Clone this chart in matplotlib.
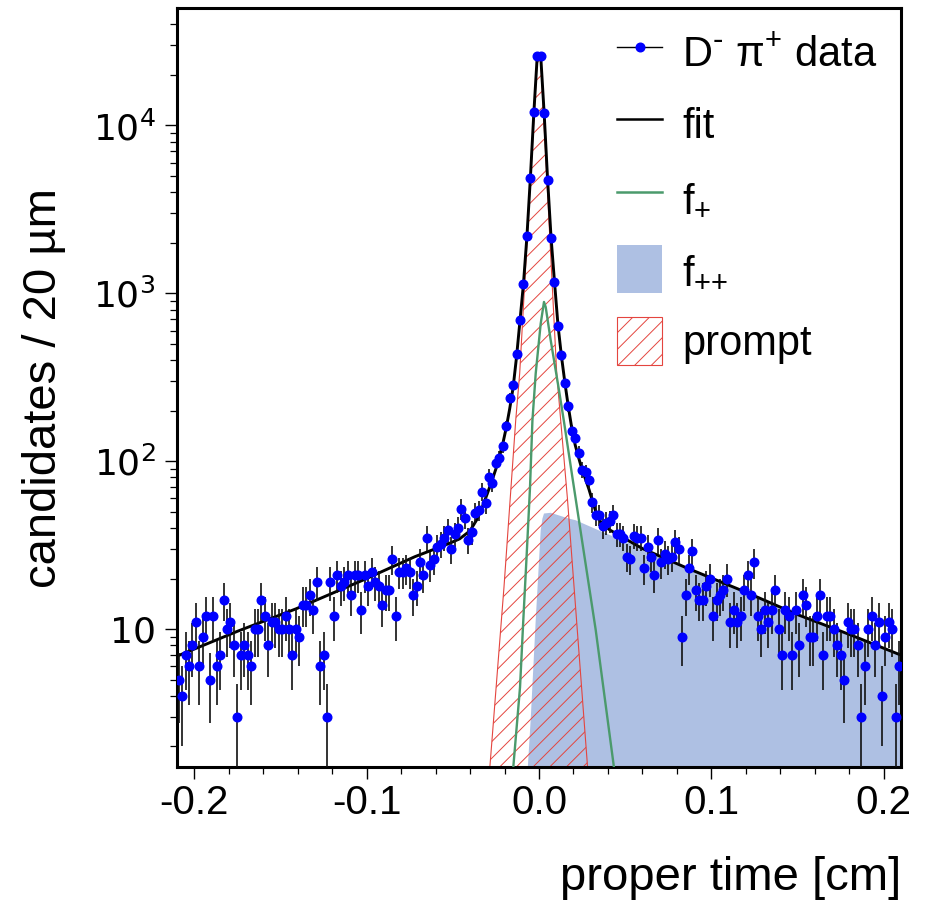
import numpy as np
import matplotlib
matplotlib.use("Agg")
import matplotlib.pyplot as plt
from matplotlib.lines import Line2D
from matplotlib.patches import Patch
from matplotlib.ticker import MultipleLocator, LogLocator, NullFormatter

plt.rcParams['font.family'] = ['Liberation Sans', 'DejaVu Sans']
plt.rcParams['mathtext.default'] = 'regular'
plt.rcParams['hatch.linewidth'] = 0.7
plt.rcParams['axes.unicode_minus'] = False

# proper-time histogram: 20 um bins between -0.21 and 0.21 cm
BIN_WIDTH = 0.002
X_RANGE = (-0.21, 0.21)
Y_RANGE = (1.51, 4.97e4)

counts = [
    5, 4, 7, 6, 8, 11, 6, 9, 12, 5, 12, 6, 7, 15, 10, 11, 8, 3, 7, 8,
    7, 6, 10, 10, 15, 12, 8, 11, 11, 10, 10, 12, 10, 7, 10, 9,
    14, 14, 16, 13, 19, 6, 7, 3, 19, 12, 21, 18, 19, 21, 16, 21, 21, 13,
    21, 18, 22, 19, 18, 14, 17, 17, 26, 12, 22, 22, 23, 22, 16, 18, 25, 21,
    35, 24, 26, 31, 32, 35, 39, 30, 37, 40, 52, 46, 34, 38, 49, 51, 66, 56,
    81, 74, 98, 105, 123, 162, 238, 283,
    433, 697, 1140, 2180, 4850, 12100, 26000,
    26000, 11800, 4760, 2130, 1170, 637, 428, 292, 212, 151, 138, 112,
    89, 86, 77, 57, 48, 48, 41, 43, 44, 48, 37, 37, 35, 27, 26, 36, 35, 35,
    23, 31, 27, 21, 34, 25, 28, 26, 27, 33, 30,
    9, 16, 23, 29, 17, 15, 15, 18, 20, 12, 15, 16, 17, 20, 11, 13, 11, 12,
    17, 21, 16, 25, 12, 10, 13, 11, 13, 17, 10, 7, 13, 12, 7, 13, 8,
    16, 14, 9, 9, 12, 16, 7, 12, 12, 10, 8, 7, 5, 11, 10, 10, 8, 3, 6, 10,
    12, 8, 11, 4, 9, 11, 10, 3, 6,
]

# total fit
fit_x = [-0.210, -0.175, -0.141, -0.102, -0.072, -0.052, -0.046, -0.040,
         -0.036, -0.033, -0.030, -0.027, -0.025, -0.023, -0.021, -0.019,
         -0.017, -0.015, -0.013, -0.011, -0.009, -0.007, -0.005, -0.003,
         -0.001, 0.001, 0.003, 0.005, 0.007, 0.009, 0.011, 0.013, 0.015,
         0.017, 0.019, 0.021, 0.023, 0.025, 0.027, 0.029, 0.031, 0.033,
         0.036, 0.041, 0.050, 0.060, 0.085, 0.120, 0.150, 0.180, 0.210]
fit_y = [6.9, 9.7, 13.2, 19.6, 27.0, 32.4, 34.5, 38.5,
         45, 53, 64, 78, 90, 106, 127, 158,
         205, 275, 420, 690, 1140, 2180, 4850, 11800,
         26000, 26000, 11800, 4760, 2150, 1170, 650, 425, 295,
         212, 158, 125, 105, 89, 78, 68, 58, 50,
         43, 39, 34.5, 30.2, 23.3, 16.6, 12.2, 9.3, 7.0]

# f+ component
fplus_x = [-0.0155, -0.0148, -0.0110, -0.0091, -0.0071, -0.0052, -0.0038,
           -0.0019, 0.0010, 0.0029, 0.0039, 0.0068, 0.0116, 0.0145, 0.0194,
           0.0242, 0.0329, 0.0435, 0.0460]
fplus_y = [1.2, 1.55, 4.5, 11.3, 28.2, 70, 175,
           333, 660, 888, 828, 525, 265, 172, 80,
           38, 9.9, 1.5, 1.0]

# f++ component
fpp_x = [-0.0068, -0.0064, -0.0048, -0.0019, 0.0010, 0.0020, 0.0029, 0.0068,
         0.0174, 0.0213, 0.0368, 0.0600, 0.0850, 0.1200, 0.1500, 0.1800, 0.2100]
fpp_y = [1.2, 1.55, 2.9, 11.3, 38.8, 45.5, 48.8, 49.3,
         45.5, 44.5, 37.9, 30.2, 23.3, 16.6, 12.2, 9.3, 7.0]

# prompt component
prompt_x = [-0.0295, -0.0284, -0.0203, -0.0135, -0.0112, -0.001, 0.001,
            0.0103, 0.0126, 0.0165, 0.0205, 0.0282, 0.0292]
prompt_y = [1.2, 1.55, 17.8, 175, 333, 25000, 25000,
            333, 175, 60, 17, 1.5, 1.2]

x_major_ticks = [-0.2, -0.1, 0.0, 0.1, 0.2]
x_tick_labels = ['-0.2', '-0.1', '0.0', '0.1', '0.2']
y_major_ticks = [10, 100, 1000, 10000]
y_tick_labels = ['10', '$10^{2}$', '$10^{3}$', '$10^{4}$']

C_DATA = '#0000ff'
C_FPLUS = '#4b9a6c'
C_FPP = '#aec0e3'
C_PROMPT = '#e4453f'

fig = plt.figure(figsize=(9.3, 9.02), dpi=100)
ax = fig.add_axes([0.1903, 0.1497, 0.7785, 0.8409])
ax.set_yscale('log')

floor = 0.5
ax.fill_between(fpp_x, fpp_y, floor, facecolor=C_FPP, edgecolor='none',
                linewidth=0, zorder=1)
ax.fill_between(prompt_x, prompt_y, floor, facecolor='none',
                edgecolor=C_PROMPT, hatch='//', linewidth=0.8, zorder=2)
ax.plot(fplus_x, fplus_y, color=C_FPLUS, lw=1.7, zorder=3)
ax.plot(fit_x, fit_y, color='black', lw=2.1, zorder=4)

n = np.asarray(counts, dtype=float)
centers = X_RANGE[0] + BIN_WIDTH * (np.arange(n.size) + 0.5)
ax.errorbar(centers, n, yerr=np.sqrt(n), fmt='none', ecolor='#111111',
            elinewidth=1.2, capsize=0, zorder=5)
ax.plot(centers, n, 'o', color=C_DATA, mec=C_DATA, ms=6.2, zorder=6)

ax.set_xlim(X_RANGE)
ax.set_ylim(Y_RANGE)
ax.set_xticks(x_major_ticks, x_tick_labels)
ax.xaxis.set_minor_locator(MultipleLocator(0.02))
ax.set_yticks(y_major_ticks, y_tick_labels)
ax.yaxis.set_minor_locator(LogLocator(base=10, subs=np.arange(2, 10), numticks=20))
ax.yaxis.set_minor_formatter(NullFormatter())
ax.tick_params(which='both', direction='out', top=False, right=False)
ax.tick_params(which='major', length=8.4, width=1.0)
ax.tick_params(which='minor', length=4.8, width=0.9)
ax.tick_params(axis='x', labelsize=29, pad=4)
ax.tick_params(axis='y', labelsize=26, pad=7)
for lab in ax.get_yticklabels():
    lab.set_fontfamily('DejaVu Sans')
for sp in ax.spines.values():
    sp.set_linewidth(2.2)

handles = [
    Line2D([], [], color='black', lw=1.0, marker='o', ms=6.2,
           mfc=C_DATA, mec=C_DATA),
    Line2D([], [], color='black', lw=1.8),
    Line2D([], [], color=C_FPLUS, lw=1.8),
    Patch(facecolor=C_FPP, edgecolor='none'),
    Patch(facecolor='none', edgecolor=C_PROMPT, hatch='//', linewidth=0.8),
]
labels = ['D$^{\\text{-}}$ π$^{+}$ data', 'fit', 'f$_{+}$', 'f$_{{+}{+}}$',
          'prompt']
ax.legend(handles, labels, loc='upper left', bbox_to_anchor=(0.608, 0.974),
          frameon=False, fontsize=30, borderpad=0, borderaxespad=0,
          handlelength=1.08, handleheight=1.4, handletextpad=0.48,
          labelspacing=0.58, numpoints=1)

fig.text(44 / 930, 1 - 388 / 902, 'candidates / 20 µm', rotation=90,
         ha='center', va='center', fontsize=34)
fig.text(901 / 930, 1 - 890 / 902, 'proper time [cm]', ha='right',
         va='baseline', fontsize=34)

fig.savefig('out.png', dpi=100)
